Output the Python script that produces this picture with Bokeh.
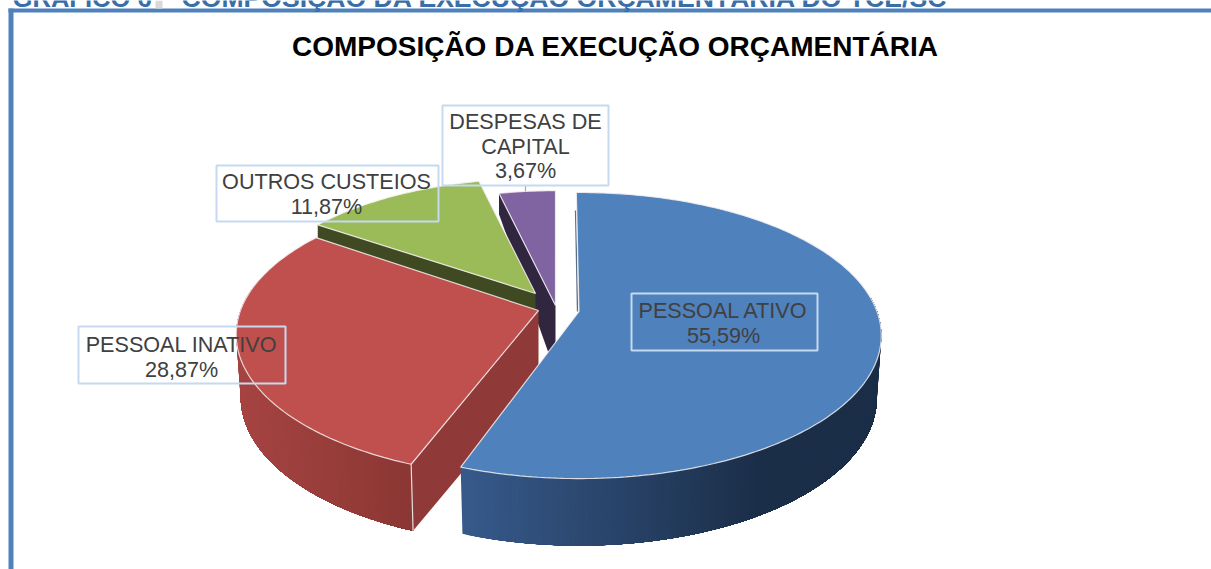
import math
from bokeh.plotting import figure
from bokeh.embed import file_html
from bokeh.resources import INLINE
from bokeh.core.properties import value

# ---- data ----
categories = ["PESSOAL ATIVO", "PESSOAL INATIVO", "OUTROS CUSTEIOS", "DESPESAS DE CAPITAL"]
shares = [55.59, 28.87, 11.87, 3.67]
share_labels = ["55,59%", "28,87%", "11,87%", "3,67%"]
label_lines = [["PESSOAL ATIVO", "55,59%"], ["PESSOAL INATIVO", "28,87%"],
               ["OUTROS CUSTEIOS", "11,87%"], ["DESPESAS DE", "CAPITAL", "3,67%"]]
chart_title = "COMPOSIÇÃO DA EXECUÇÃO ORÇAMENTÁRIA"
header_left = "GRÁFICO 6"
header_right = "COMPOSIÇÃO DA EXECUÇÃO ORÇAMENTÁRIA DO TCE/SC"

# ---- styles / layout ----
top_colors = ["#4f81bd", "#c0504d", "#9bbb59", "#8064a2"]
face_colors = ["#34557c", "#8c3836", "#3f4a22", "#31263f"]
apex = [(578.5, 311), (538, 310), (535, 293), (555, 305)]
scale = [1.0, 1.0, 0.965, 0.965]
rot = [-0.6, 1.0, 0.0, 0.0]
R, H, K = 298.0, 139.0, 0.168
DY, RX_B, RY_B = 62.0, 0.985, 1.03
FONT = "Liberation Sans"
boxes = [(631, 293, 817, 350), (78, 326, 285, 383), (216, 165, 438, 221), (442, 105, 608, 185)]
label_cx = [723, 181, 326, 525]
label_y0 = [310, 344, 181, 121]
LINE_H = 24.7

p = figure(width=1211, height=569, x_range=(0, 1211), y_range=(569, 0),
           output_backend="svg", toolbar_location=None, min_border=0,
           background_fill_color="white", border_fill_color="white",
           styles={"position": "absolute", "left": "0px", "top": "0px"})
p.axis.visible = False
p.grid.visible = False
p.outline_line_color = None


def top_pt(i, deg):
    t = math.radians(deg + rot[i])
    u, v = math.sin(t), math.cos(t)
    d = 1 + K * v
    return (apex[i][0] + scale[i] * R * u / d, apex[i][1] - scale[i] * H * v / d)


def bot_pt(i, deg):
    t = math.radians(deg + rot[i])
    u, v = math.sin(t), math.cos(t)
    d = 1 + K * v
    return (apex[i][0] + RX_B * scale[i] * R * u / d, apex[i][1] + DY + RY_B * scale[i] * H * -v / d)


def mix(c1, c2, f):
    f = max(0.0, min(1.0, f))
    a = [int(c1[j:j + 2], 16) for j in (1, 3, 5)]
    b = [int(c2[j:j + 2], 16) for j in (1, 3, 5)]
    return "#%02x%02x%02x" % tuple(round(a[k] + (b[k] - a[k]) * f) for k in range(3))


def frange(a, b, step):
    n = max(2, int(abs(b - a) / step) + 1)
    return [a + (b - a) * j / (n - 1) for j in range(n)]


def wall(i, start, stop, c_from, c_to, x_from, x_to):
    """Gradient wall painted as overlapping strips, each running to the far end so no seam shows."""
    steps = frange(start, stop, 0.7)
    for a in steps[:-1]:
        arc = frange(a, stop, 1.0)
        t = [top_pt(i, d) for d in arc]
        b = [bot_pt(i, d) for d in arc]
        col = mix(c_from, c_to, (t[0][0] - x_from) / (x_to - x_from))
        p.patch([q[0] for q in t] + [q[0] for q in reversed(b)],
                [q[1] for q in t] + [q[1] for q in reversed(b)],
                fill_color=col, line_color=None)


# slice angles from the values
bounds = [0.0]
for s in shares:
    bounds.append(bounds[-1] + s * 3.6)

# frame and clipped header
p.quad(left=8, right=1211, top=8, bottom=12, fill_color="#4f81bd", line_color=None)
p.quad(left=8, right=13, top=8, bottom=569, fill_color="#4f81bd", line_color=None)
p.quad(left=155, right=162, top=0, bottom=8, fill_color="#d9d9d9", line_color=None)
p.text(x=[12], y=[-3], text=[header_left], text_font=value(FONT), text_font_style="bold",
       text_font_size="25.6px", text_color="#3a6ea8", text_baseline="alphabetic")
p.text(x=[181], y=[-3], text=[header_right], text_font=value(FONT), text_font_style="bold",
       text_font_size="26.6px", text_color="#3a6ea8", text_baseline="alphabetic")

# chart title
p.text(x=[615], y=[46], text=[chart_title], text_font=value(FONT), text_font_style="bold",
       text_font_size="28px", text_color="#000000", text_align="center", text_baseline="middle")

# purple cut face (slice 3): short at the rim, long at the apex
a3 = apex[3]
tip3 = top_pt(3, bounds[3])
p.patch([tip3[0], a3[0], a3[0], tip3[0]], [tip3[1], a3[1], a3[1] + 67, tip3[1] + 21],
        fill_color=face_colors[3], line_color=None)

# green cut face (slice 2)
a2 = apex[2]
tip2 = top_pt(2, bounds[2])
p.patch([tip2[0], a2[0], a2[0], tip2[0]], [tip2[1], a2[1], a2[1] + 40, tip2[1] + 40],
        fill_color=face_colors[2], line_color=None)

# red outer wall (paint from the left rim to the corner)
wall(1, 282, bounds[1], "#a64442", "#893632", 237, 417)

# red cut face
c1, c1b = top_pt(1, bounds[1]), bot_pt(1, bounds[1])
p.patch([apex[1][0], c1[0], c1b[0], apex[1][0]], [apex[1][1], c1[1], c1b[1], apex[1][1] + DY + 8],
        fill_color="#8f3a38", line_color=None)
p.line([c1[0], c1b[0]], [c1[1], c1b[1]], line_color="#e8dede", line_width=1.2)

# blue outer wall (paint from the left corner to the right rim)
wall(0, bounds[1], 85, "#36598a", "#1b2e48", 465, 760)

# thin inner edge of blue slice
t0 = top_pt(0, 0)
p.line([t0[0] - 0.8, apex[0][0] - 1.5], [t0[1] + 18, apex[0][1]], line_color="#5d6f85", line_width=1.3)

# top faces
for i in (3, 2, 1, 0):
    arc = [top_pt(i, d) for d in frange(bounds[i], bounds[i + 1], 1.0)]
    px = [apex[i][0]] + [q[0] for q in arc]
    py = [apex[i][1]] + [q[1] for q in arc]
    p.patch(px, py, fill_color=top_colors[i], line_color="#f4f1f1", line_alpha=0.85, line_width=1.2)

# leader of the small slice
lx = label_cx[3]
p.line([lx, lx], [boxes[3][3], top_pt(3, bounds[3] + 6)[1]], line_color="#a6a6a6", line_width=1.2)

# data labels: border-only boxes, text above
for (l, t, r, b), cx, y0, lines in zip(boxes, label_cx, label_y0, label_lines):
    p.quad(left=l, right=r, top=t, bottom=b, fill_color=None, line_color="#c6d9f0", line_width=2)
    for j, s in enumerate(lines):
        p.text(x=[cx], y=[y0 + j * LINE_H], text=[s], text_font=value(FONT), text_font_size="21.6px",
               text_color="#404040", text_align="center", text_baseline="middle")

open("out.html", "w").write(file_html(p, INLINE))
